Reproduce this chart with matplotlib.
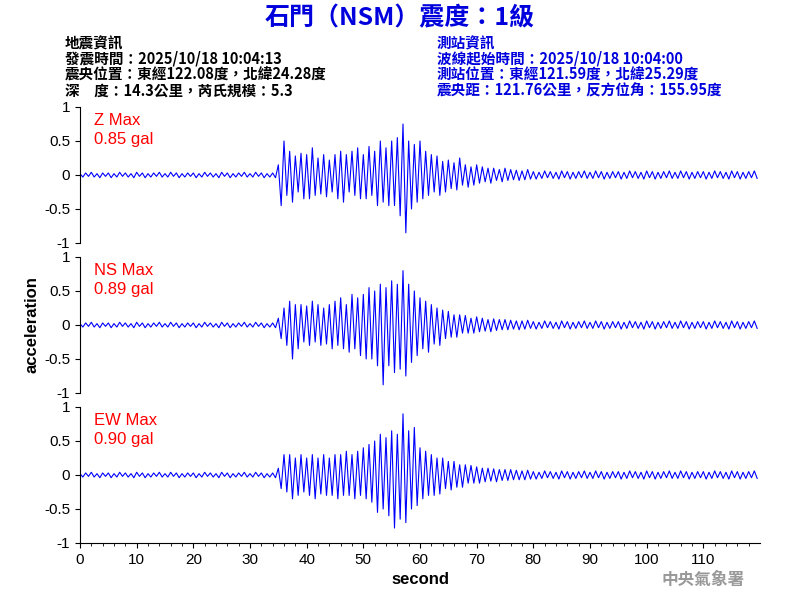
import numpy as np
import matplotlib
matplotlib.use("Agg")
import matplotlib.pyplot as plt

plt.rcParams['font.family'] = ['Noto Sans CJK TC', 'DejaVu Sans']

dt = 0.5
quiet = [0.02,-0.03,0.03,-0.02,0.04,-0.03,0.02,-0.04,0.03,-0.02,
         0.03,-0.04,0.02,-0.03,0.04,-0.02,0.03,-0.03,0.02,-0.04,
         0.04,-0.02,0.03,-0.04,0.02,-0.03,0.03,-0.02,0.04,-0.03,
         0.02,-0.03,0.04,-0.02,0.03,-0.04,0.02,-0.03,0.03,-0.02,
         0.03,-0.04,0.02,-0.03,0.04,-0.02,0.03,-0.03,0.02,-0.04,
         0.04,-0.02,0.03,-0.04,0.02,-0.03,0.03,-0.02,0.04,-0.03,
         0.02,-0.03,0.04,-0.02,0.03,-0.04,0.02,-0.03,0.03,-0.04]
tail = [0.05,-0.06,0.04,-0.05,0.06,-0.04,0.05,-0.05,0.04,-0.06,
        0.06,-0.04,0.05,-0.06,0.04,-0.05,0.05,-0.04,0.06,-0.05,
        0.04,-0.05,0.06,-0.04,0.05,-0.06,0.04,-0.05,0.05,-0.04,
        0.05,-0.06,0.04,-0.05,0.06,-0.04,0.05,-0.05,0.04,-0.06,
        0.06,-0.04,0.05,-0.06,0.04,-0.05,0.05,-0.04,0.06,-0.05,
        0.04,-0.05,0.06,-0.04,0.05,-0.06,0.04,-0.05,0.05,-0.04,
        0.05,-0.06,0.04,-0.05,0.06,-0.04,0.05,-0.05,0.04,-0.06,
        0.06,-0.04,0.05,-0.06,0.04,-0.05,0.05,-0.04,0.06,-0.05]

z_main = [0.15,-0.45,0.5,-0.3,0.35,-0.4,0.28,-0.25,0.32,-0.35,
          0.3,-0.35,0.4,-0.3,0.25,-0.28,0.3,-0.32,0.22,-0.25,
          0.3,-0.35,0.35,-0.4,0.3,-0.25,0.35,-0.3,0.4,-0.35,
          0.3,-0.35,0.42,-0.3,0.35,-0.45,0.5,-0.4,0.4,-0.45,
          0.5,-0.45,0.55,-0.6,0.75,-0.85,0.5,-0.5,0.45,-0.4,
          0.5,-0.35,0.35,-0.3,0.3,-0.25,0.28,-0.3,0.2,-0.25,
          0.22,-0.2,0.18,-0.22,0.25,-0.15,0.15,-0.18,0.12,-0.15,
          0.15,-0.12,0.12,-0.1,0.1,-0.12,0.1,-0.08,0.08,-0.1,
          0.1,-0.08,0.08,-0.07,0.07,-0.08,0.06,-0.07,0.08,-0.06]
ns_main = [0.1,-0.2,0.25,-0.3,0.35,-0.5,0.3,-0.35,0.3,-0.25,
           0.28,-0.3,0.35,-0.25,0.3,-0.3,0.25,-0.28,0.3,-0.35,
           0.35,-0.3,0.4,-0.35,0.3,-0.4,0.45,-0.35,0.4,-0.45,
           0.45,-0.5,0.55,-0.5,0.5,-0.6,0.6,-0.88,0.55,-0.6,
           0.65,-0.7,0.6,-0.65,0.8,-0.75,0.6,-0.55,0.5,-0.45,
           0.4,-0.35,0.35,-0.4,0.3,-0.28,0.25,-0.3,0.22,-0.2,
           0.2,-0.18,0.15,-0.18,0.15,-0.12,0.14,-0.12,0.1,-0.12,
           0.12,-0.1,0.1,-0.09,0.08,-0.1,0.09,-0.08,0.08,-0.07,
           0.08,-0.07,0.07,-0.06,0.06,-0.07,0.06,-0.06,0.07,-0.05]
ew_main = [0.1,-0.2,0.3,-0.25,0.3,-0.35,0.25,-0.3,0.3,-0.25,
           0.25,-0.3,0.3,-0.35,0.25,-0.28,0.3,-0.3,0.25,-0.3,
           0.3,-0.35,0.3,-0.3,0.35,-0.3,0.3,-0.35,0.35,-0.3,
           0.4,-0.35,0.45,-0.4,0.5,-0.55,0.6,-0.5,0.55,-0.6,
           0.65,-0.78,0.6,-0.65,0.9,-0.7,0.65,-0.5,0.7,-0.45,
           0.4,-0.35,0.35,-0.3,0.3,-0.3,0.25,-0.28,0.25,-0.2,
           0.2,-0.22,0.2,-0.18,0.15,-0.18,0.15,-0.12,0.14,-0.12,
           0.12,-0.12,0.1,-0.1,0.1,-0.09,0.09,-0.1,0.08,-0.08,
           0.08,-0.08,0.08,-0.07,0.07,-0.07,0.06,-0.07,0.07,-0.06]

z_vals = quiet + z_main + tail
ns_vals = quiet + ns_main + tail
ew_vals = quiet + ew_main + tail
channels = ["Z", "NS", "EW"]
maxima = ["0.85 gal", "0.89 gal", "0.90 gal"]
series = [z_vals, ns_vals, ew_vals]

LAT = 'Liberation Sans'
fig = plt.figure(figsize=(8, 6), dpi=100)
W, H = 800, 600
tops = [107, 257, 407]
for k, (ch, mx, vals) in enumerate(zip(channels, maxima, series)):
    top = tops[k]
    ax = fig.add_axes([80/W, 1-(top+136)/H, 680/W, 136/H])
    t = np.arange(len(vals)) * dt
    ax.plot(t, vals, color='#0000ff', lw=0.8)
    ax.set_xlim(0, 120)
    ax.set_ylim(-1, 1)
    ax.set_yticks([-1, -0.5, 0, 0.5, 1])
    ax.set_yticklabels(['-1', '-0.5', '0', '0.5', '1'], fontsize=11, family=LAT)
    for s in ['top', 'right']:
        ax.spines[s].set_visible(False)
    if k < 2:
        ax.spines['bottom'].set_visible(False)
        ax.set_xticks([])
    else:
        ax.set_xticks(range(0, 120, 10))
        ax.set_xticklabels([str(v) for v in range(0, 120, 10)], fontsize=11, family=LAT)
        ax.set_xticks(range(0, 120, 2), minor=True)
        ax.set_xlabel('second', fontsize=12, family=LAT, fontweight='bold')
    ax.text(0.02, 0.9, f"{ch} Max", transform=ax.transAxes, color='red', fontsize=12, family=LAT, va='center')
    ax.text(0.02, 0.76, mx, transform=ax.transAxes, color='red', fontsize=12, family=LAT, va='center')

fig.text(32/W, 1-325/H, 'acceleration', rotation=90, ha='center', va='center', fontsize=12, family=LAT, fontweight='bold')
fig.text(400/W, 1-18/H, '石門（NSM）震度：1級', color='#0000dd', fontsize=18, fontweight='bold', ha='center', va='center')
left = ['地震資訊', '發震時間：2025/10/18 10:04:13', '震央位置：東經122.08度，北緯24.28度', '深　度：14.3公里，芮氏規模：5.3']
right = ['測站資訊', '波線起始時間：2025/10/18 10:04:00', '測站位置：東經121.59度，北緯25.29度', '震央距：121.76公里，反方位角：155.95度']
for i, (a, b) in enumerate(zip(left, right)):
    y = 1 - (43 + 16*i)/H
    fig.text(65/W, y, a, fontsize=10.5, fontweight='bold', va='center')
    fig.text(437/W, y, b, fontsize=10.5, fontweight='bold', color='#0000dd', va='center')
fig.text(745/W, 1-580/H, '中央氣象署', color='#999999', fontsize=12, fontweight='bold', ha='right', va='center')
fig.savefig('out.png')
